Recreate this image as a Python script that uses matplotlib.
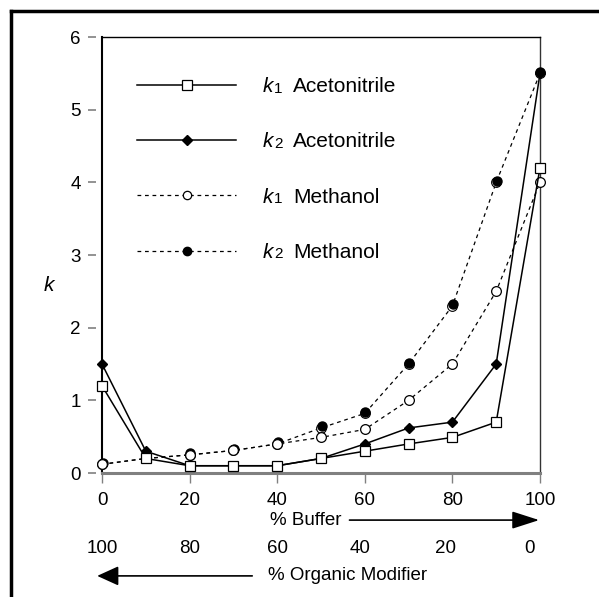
import matplotlib
matplotlib.use('Agg')
import matplotlib.pyplot as plt
from matplotlib.lines import Line2D
from matplotlib import transforms

plt.rcParams['font.family'] = 'Liberation Sans'

# data
buffer_pct = [0, 10, 20, 30, 40, 50, 60, 70, 80, 90, 100]
k1_acn = [1.2, 0.2, 0.1, 0.1, 0.1, 0.2, 0.3, 0.4, 0.49, 0.7, 4.2]
k2_acn = [1.5, 0.3, 0.1, 0.1, 0.1, 0.2, 0.4, 0.62, 0.7, 1.5, 5.5]
k1_meoh = [0.12, 0.2, 0.25, 0.31, 0.4, 0.49, 0.6, 1.0, 1.5, 2.5, 4.0]
k2_meoh = [0.12, 0.2, 0.25, 0.31, 0.4, 0.62, 0.82, 1.5, 2.3, 4.0, 5.5]

y_ticks = [0, 1, 2, 3, 4, 5, 6]
x_ticks = [0, 20, 40, 60, 80, 100]
organic_labels = ['100', '80', '60', '40', '20', '0']
organic_pos = [0, 20, 40, 59, 78.5, 97.5]
legend_k = ['1', '2', '1', '2']
legend_solvent = ['Acetonitrile', 'Acetonitrile', 'Methanol', 'Methanol']

fs = 13.5
fig = plt.figure(figsize=(5.99, 5.97), dpi=100)
ax = fig.add_axes([0.1703, 0.2077, 0.7312, 0.7303])

lw = 1.1
dash = (0, (3, 3))
# k2 methanol: filled circle sitting on an offset open circle
ax.plot(buffer_pct, k2_meoh, ls=dash, color='black', lw=0.9,
        marker='o', ms=7, mfc='white', mec='black', mew=0.8, clip_on=False, zorder=3)
shift = transforms.offset_copy(ax.transData, fig=fig, x=0.5, y=1.5, units='dots')
ax.plot(buffer_pct, k2_meoh, ls='none', marker='o', ms=6.5, mfc='black',
        mec='black', transform=shift, clip_on=False, zorder=3)
ax.plot(buffer_pct, k1_meoh, ls=dash, color='black', lw=0.9,
        marker='o', ms=7, mfc='white', mec='black', mew=0.9, clip_on=False, zorder=4)
ax.plot(buffer_pct, k2_acn, ls='-', color='black', lw=lw,
        marker='D', ms=5.5, mfc='black', mec='black', clip_on=False, zorder=5)
ax.plot(buffer_pct, k1_acn, ls='-', color='black', lw=lw,
        marker='s', ms=6.5, mfc='white', mec='black', mew=0.9, clip_on=False, zorder=6)

ax.set_xlim(0, 100)
ax.set_ylim(0, 6)
ax.set_xticks(x_ticks)
ax.set_yticks(y_ticks)

ax.spines['left'].set_position(('outward', 4))
ax.spines['left'].set_visible(False)
ax.axvline(0, color='black', lw=1.5, clip_on=False, zorder=2)
ax.spines['top'].set_color('black')
ax.spines['top'].set_linewidth(1.0)
ax.spines['right'].set_color('#333333')
ax.spines['right'].set_linewidth(1.0)
ax.spines['bottom'].set_color('#808080')
ax.spines['bottom'].set_linewidth(2.2)

ax.tick_params(axis='y', direction='out', length=5.8, width=1.2, color='#808080',
               pad=5.5, labelsize=fs)
ax.tick_params(axis='x', direction='out', length=7.2, width=1.0, color='#808080',
               pad=6.5, labelsize=fs)

ax.text(-0.122, 0.431, 'k', style='italic', fontsize=15, transform=ax.transAxes,
        ha='center', va='center')

# secondary x scale and arrows
xt = ax.get_xaxis_transform()
ax.text(38.4, -0.108, '% Buffer', transform=xt, ha='left', va='center', fontsize=fs)
ax.annotate('', xy=(99.8, -0.108), xytext=(56.5, -0.108), xycoords=xt, textcoords=xt,
            annotation_clip=False,
            arrowprops=dict(arrowstyle='-|>,head_length=1.4,head_width=0.45',
                            color='black', lw=1.2, shrinkA=0, shrinkB=0, mutation_scale=12))
for pos, lab in zip(organic_pos, organic_labels):
    ax.text(pos, -0.174, lab, transform=xt, ha='center', va='center', fontsize=fs)
ax.text(37.8, -0.236, '% Organic Modifier', transform=xt, ha='left', va='center',
        fontsize=fs)
ax.annotate('', xy=(-1.1, -0.236), xytext=(34.3, -0.236), xycoords=xt, textcoords=xt,
            annotation_clip=False,
            arrowprops=dict(arrowstyle='-|>,head_length=1.1,head_width=0.5',
                            color='black', lw=1.2, shrinkA=0, shrinkB=0, mutation_scale=12))

# legend
lfs = 15
handles = [
    Line2D([], [], ls='-', color='black', lw=lw, marker='s', ms=6.5, mfc='white', mec='black', mew=0.9),
    Line2D([], [], ls='-', color='black', lw=lw, marker='D', ms=5.5, mfc='black', mec='black'),
    Line2D([], [], ls=dash, color='black', lw=0.9, marker='o', ms=6, mfc='white', mec='black', mew=0.9),
    Line2D([], [], ls=dash, color='black', lw=0.9, marker='o', ms=6, mfc='black', mec='black'),
]
leg = ax.legend(handles, legend_solvent, loc='upper left', bbox_to_anchor=(0.080, 0.908),
                frameon=False, handlelength=4.76, handletextpad=2.74, labelspacing=1.74,
                borderaxespad=0, borderpad=0, fontsize=lfs, numpoints=1)
# italic k with a small baseline "1"/"2" in front of each legend label
# (zorder above the legend so the label positions are known when these are drawn)
for txt, sub in zip(leg.get_texts(), legend_k):
    ax.annotate('k', xy=(0, 0), xycoords=txt, xytext=(-31, 0), textcoords='offset pixels',
                ha='left', va='bottom', fontsize=lfs, style='italic',
                annotation_clip=False, zorder=10)
    ax.annotate(sub, xy=(0, 0), xycoords=txt, xytext=(-19.5, 0.5), textcoords='offset pixels',
                ha='left', va='bottom', fontsize=11, annotation_clip=False, zorder=10)

# outer frame (top and left edges)
fig.add_artist(Line2D([11 / 599, 11 / 599], [0, 1 - 11 / 597], transform=fig.transFigure,
                      color='black', lw=2.5, solid_capstyle='projecting'))
fig.add_artist(Line2D([11 / 599, 1], [1 - 11 / 597, 1 - 11 / 597], transform=fig.transFigure,
                      color='black', lw=2.5, solid_capstyle='projecting'))

fig.savefig('out.png', dpi=100)
